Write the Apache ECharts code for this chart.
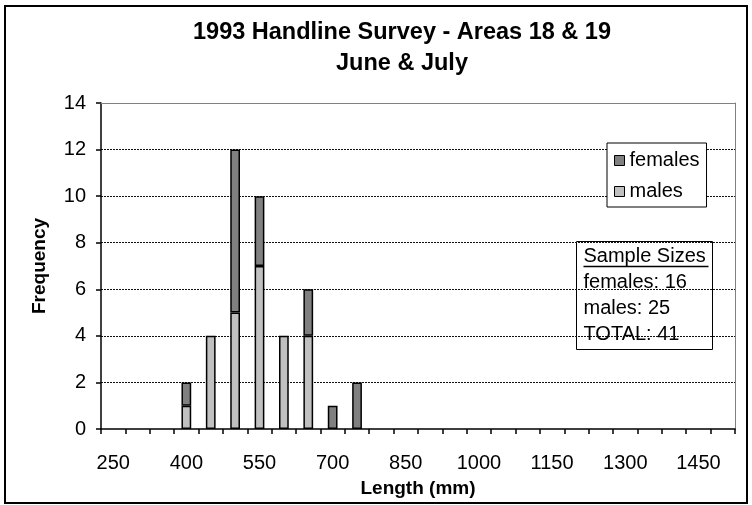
<!DOCTYPE html>
<html>
<head>
<meta charset="utf-8">
<script src="https://cdn.jsdelivr.net/npm/echarts@6/dist/echarts.min.js"></script>
<style>
  html, body { margin: 0; padding: 0; background: #fff; }
  #chart { width: 752px; height: 505px; }
</style>
</head>
<body>
<div id="chart"></div>
<script>
// length classes (mm)
const lengths = ['250', '300', '350', '400', '450', '500', '550', '600', '650', '700', '750', '800', '850',
  '900', '950', '1000', '1050', '1100', '1150', '1200', '1250', '1300', '1350', '1400', '1450', '1500'];
const males = [0, 0, 0, 1, 4, 5, 7, 4, 4, 0, 0, 0, 0, 0, 0, 0, 0, 0, 0, 0, 0, 0, 0, 0, 0, 0];
const females = [0, 0, 0, 1, 0, 7, 3, 0, 2, 1, 2, 0, 0, 0, 0, 0, 0, 0, 0, 0, 0, 0, 0, 0, 0, 0];
const sampleLines = ['females: 16', 'males: 25', 'TOTAL: 41'];

const FONT = 'Liberation Sans, Arial, sans-serif';

// empty classes get no bar at all
const noZero = arr => arr.map(v => (v === 0 ? '-' : v));

const chart = echarts.init(document.getElementById('chart'));

const option = {
  animation: false,
  backgroundColor: '#fff',
  title: {
    text: '1993 Handline Survey - Areas 18 & 19\nJune & July',
    left: 397,
    top: 12,
    textAlign: 'center',
    textStyle: { fontFamily: FONT, fontSize: 23.5, fontWeight: 'bold', color: '#000', lineHeight: 31 }
  },
  legend: {
    data: ['females', 'males'],
    orient: 'vertical',
    left: 607,
    top: 143,
    padding: [6, 7, 4, 7],
    itemGap: 8,
    itemWidth: 10,
    itemHeight: 10,
    icon: 'rect',
    backgroundColor: '#fff',
    borderColor: '#000',
    borderWidth: 1,
    itemStyle: { borderColor: '#000', borderWidth: 1 },
    textStyle: { fontFamily: FONT, fontSize: 20, color: '#000', lineHeight: 23 }
  },
  grid: { left: 101, right: 17, top: 103, bottom: 76 },
  xAxis: [
    {
      type: 'category',
      data: lengths,
      name: 'Length (mm)',
      nameLocation: 'middle',
      nameGap: 50,
      nameTextStyle: { fontFamily: FONT, fontSize: 19, fontWeight: 'bold', color: '#000' },
      axisLine: { show: true, onZero: false, lineStyle: { color: '#000', width: 1.5 } },
      axisTick: { show: true, interval: 0, length: 5, lineStyle: { color: '#000', width: 1.5 } },
      axisLabel: { interval: 2, margin: 24, fontFamily: FONT, fontSize: 20, color: '#000' },
      splitLine: { show: false },
      z: 6
    },
    {
      type: 'category',
      data: lengths,
      position: 'top',
      z: 5,
      axisLine: { show: true, onZero: false, lineStyle: { color: '#808080', width: 1 } },
      axisTick: { show: false },
      axisLabel: { show: false }
    }
  ],
  yAxis: [
    {
      type: 'value',
      min: 0,
      max: 14,
      interval: 2,
      name: 'Frequency',
      nameLocation: 'middle',
      nameGap: 52,
      nameTextStyle: { fontFamily: FONT, fontSize: 19, fontWeight: 'bold', color: '#000' },
      axisLine: { show: true, lineStyle: { color: '#000', width: 1.5 } },
      axisTick: { show: true, length: 5, lineStyle: { color: '#000', width: 1.5 } },
      axisLabel: { margin: 15, fontFamily: FONT, fontSize: 20, color: '#000' },
      splitLine: {
        show: true,
        showMinLine: false,
        showMaxLine: false,
        lineStyle: { color: '#111', type: [2, 1], width: 1 }
      }
    },
    {
      type: 'value',
      min: 0,
      max: 14,
      position: 'right',
      z: 5,
      axisLine: { show: true, lineStyle: { color: '#808080', width: 1 } },
      axisTick: { show: false },
      axisLabel: { show: false },
      splitLine: { show: false }
    }
  ],
  series: [
    {
      name: 'males',
      type: 'bar',
      stack: 'fish',
      barWidth: '40%',
      data: noZero(males),
      itemStyle: { color: '#c0c0c0', borderColor: '#000', borderWidth: 1.5 }
    },
    {
      name: 'females',
      type: 'bar',
      stack: 'fish',
      barWidth: '40%',
      data: noZero(females),
      itemStyle: { color: '#808080', borderColor: '#000', borderWidth: 1.5 }
    }
  ],
  graphic: [
    {
      type: 'rect',
      shape: { x: 5, y: 6, width: 742, height: 497 },
      style: { fill: 'none', stroke: '#000', lineWidth: 2 },
      z: 100
    },
    {
      type: 'group',
      left: 576,
      top: 241,
      z: 100,
      children: [
        {
          type: 'rect',
          shape: { x: 0, y: 0, width: 136, height: 108 },
          style: { fill: '#fff', stroke: '#000', lineWidth: 1 }
        },
        {
          type: 'text',
          x: 7,
          y: 15,
          style: { text: 'Sample Sizes', font: '20px ' + FONT, fill: '#000', verticalAlign: 'middle' }
        },
        {
          type: 'line',
          shape: { x1: 7, y1: 25, x2: 132, y2: 25 },
          style: { stroke: '#000', lineWidth: 1.5 }
        }
      ].concat(sampleLines.map((t, i) => ({
        type: 'text',
        x: 7,
        y: 41 + i * 26,
        style: { text: t, font: '20px ' + FONT, fill: '#000', verticalAlign: 'middle' }
      })))
    }
  ]
};

chart.setOption(option);
</script>
</body>
</html>
